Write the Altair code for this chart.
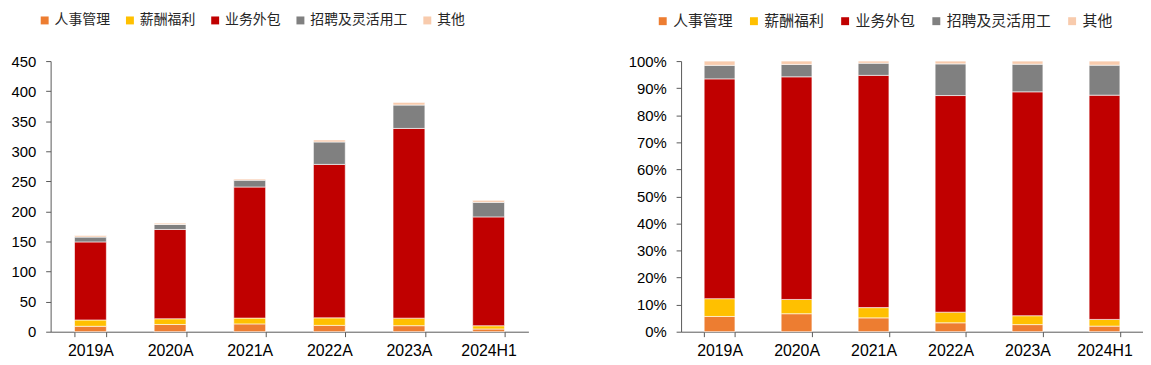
import altair as alt
import pandas as pd

periods = ["2019A", "2020A", "2021A", "2022A", "2023A", "2024H1"]
series = ["人事管理", "薪酬福利", "业务外包", "招聘及灵活用工", "其他"]
colors = ["#ED7D31", "#FFC000", "#C00000", "#808080", "#F8CBAD"]

hr = [9.0, 12.0, 13.0, 10.5, 10.0, 4.5]
payroll = [10.5, 9.5, 9.6, 12.5, 12.5, 5.4]
outsourcing = [129.8, 148.5, 218.0, 255.2, 315.5, 181.0]
recruit = [8.0, 8.3, 11.4, 37.3, 38.9, 24.2]
other = [2.5, 2.2, 2.0, 3.3, 4.4, 3.3]

values = [hr, payroll, outsourcing, recruit, other]
rows = []
for si, (name, vals) in enumerate(zip(series, values)):
    for p, v in zip(periods, vals):
        rows.append({"period": p, "series": name, "order": si, "value": v})
df = pd.DataFrame(rows)

AXIS_COLOR = "#595959"
LABEL_FONT = "Liberation Sans"

color_scale = alt.Scale(domain=series, range=colors)

def make_legend(x, font_size):
    return alt.Legend(
        title=None, orient="none", legendX=x, legendY=-48, direction="horizontal",
        symbolType="square", symbolSize=64, symbolStrokeWidth=0,
        labelFont="Noto Sans CJK SC", labelFontSize=font_size, labelColor="#262626",
        labelOffset=3, columnPadding=13, padding=0,
    )

x_enc = alt.X(
    "period:N", sort=periods, title=None,
    scale=alt.Scale(paddingInner=0.6, paddingOuter=0.3),
    axis=alt.Axis(labelAngle=0, labelFont=LABEL_FONT, labelFontSize=16, labelColor="black",
                  domainColor=AXIS_COLOR, tickColor=AXIS_COLOR, tickSize=5, tickBand="extent",
                  labelPadding=6, grid=False),
)

left = alt.Chart(df).mark_bar(stroke="white", strokeWidth=0.6).encode(
    x=x_enc,
    y=alt.Y("value:Q", stack="zero", title=None,
            scale=alt.Scale(domain=[0, 450], nice=False),
            axis=alt.Axis(values=list(range(0, 451, 50)), labelFont=LABEL_FONT, labelFontSize=15,
                          labelColor="black", domainColor=AXIS_COLOR, tickColor=AXIS_COLOR,
                          tickSize=5, labelPadding=10, grid=False, minExtent=43, maxExtent=43)),
    color=alt.Color("series:N", scale=color_scale, sort=series, legend=make_legend(-13, 14)),
    order=alt.Order("order:Q"),
).properties(width=482, height=273)

right = alt.Chart(df).mark_bar(stroke="white", strokeWidth=0.6).encode(
    x=x_enc,
    y=alt.Y("value:Q", stack="normalize", title=None,
            scale=alt.Scale(domain=[0, 1], nice=False),
            axis=alt.Axis(values=[i / 10 for i in range(11)], format=".0%", labelFont=LABEL_FONT,
                          labelFontSize=15, labelColor="black", domainColor=AXIS_COLOR,
                          tickColor=AXIS_COLOR, tickSize=5, labelPadding=10, grid=False,
                          minExtent=50, maxExtent=50)),
    color=alt.Color("series:N", scale=color_scale, sort=series, legend=make_legend(-26, 15)),
    order=alt.Order("order:Q"),
).properties(width=466, height=273)

chart = alt.hconcat(left, right, spacing=100).resolve_legend(color="independent").properties(
    padding={"left": 0, "top": 4, "right": 0, "bottom": 0}, background="white"
).configure_view(stroke=None)

chart.save("out.html", embed_options={"renderer": "svg", "actions": False})
